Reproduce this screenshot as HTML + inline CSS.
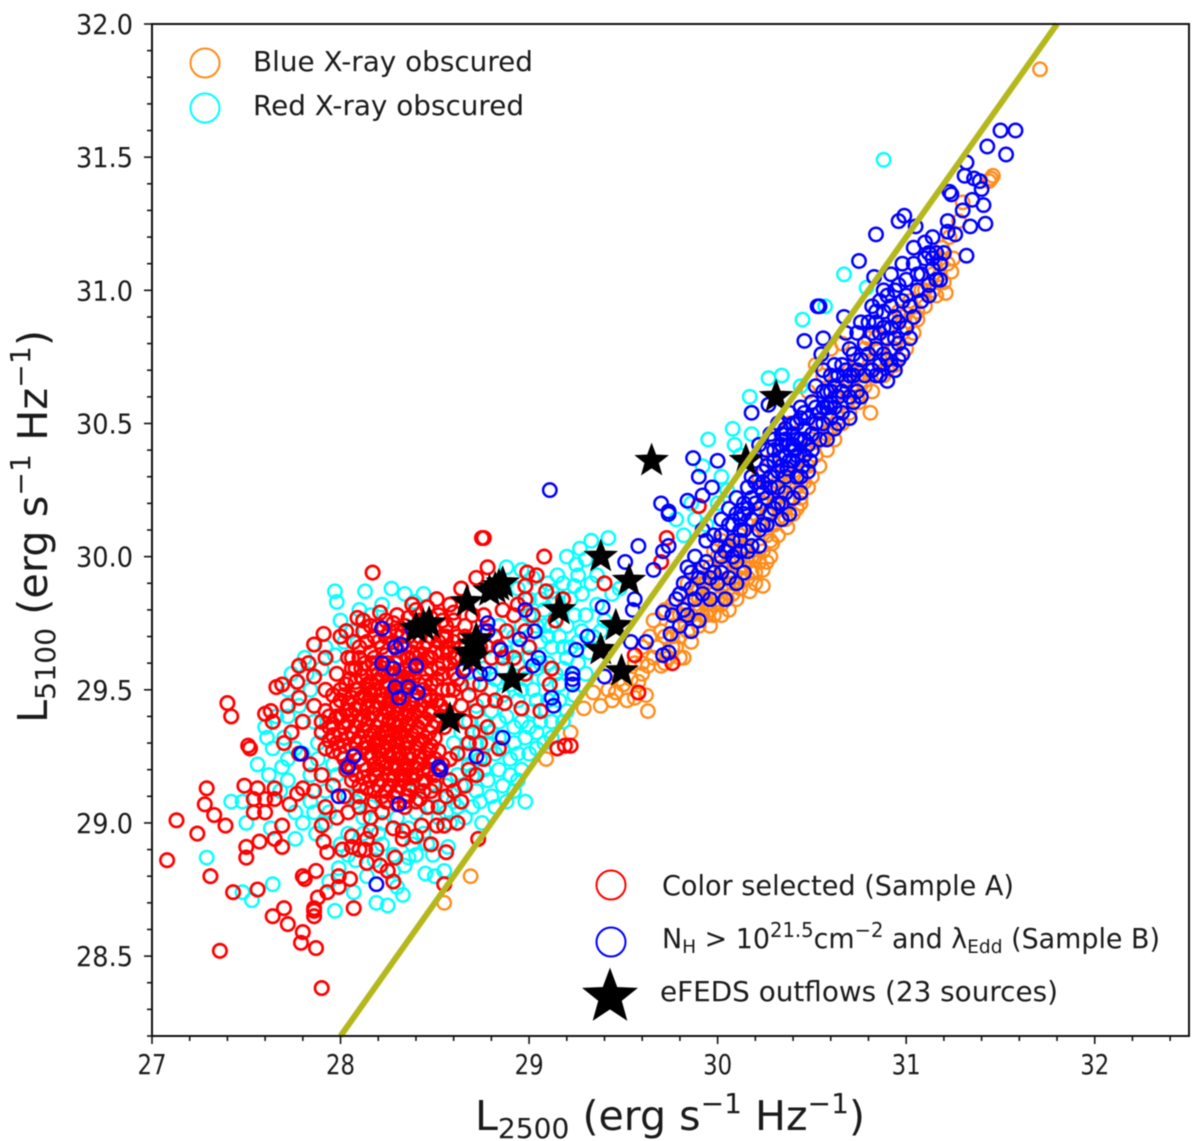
<!DOCTYPE html>
<html lang="en">
<head>
<meta charset="utf-8">
<title>L5100 versus L2500 scatter</title>
<style>
html,body{margin:0;padding:0;background:#fff;}
svg{display:block;filter:blur(0.45px);}
text{font-family:"DejaVu Sans","Liberation Sans",sans-serif;fill:#1a1a1a;}
</style>
</head>
<body>
<svg id="chart" xmlns="http://www.w3.org/2000/svg" width="1200" height="1141" viewBox="0 0 1200 1141">
  <rect x="0" y="0" width="1200" height="1141" fill="#fff"/>
  <g id="orange-layer"></g>
  <g id="cyan-layer"></g>
  <g id="red-layer"></g>
  <g id="blue-layer"></g>
  <g id="star-layer"></g>
  <line id="relation-line" stroke="#b5b81c" stroke-width="6"/>
  <g id="tick-layer"></g>
  <rect x="152" y="24" width="1037" height="1012" fill="none" stroke="#111" stroke-width="2"/>

  <g>
    <circle cx="205" cy="63" r="14.5" fill="none" stroke="#ff8c1a" stroke-width="2"/>
    <text x="253" y="71" font-size="27.5" textLength="280" lengthAdjust="spacingAndGlyphs">Blue X-ray obscured</text>
    <circle cx="205" cy="108" r="14.5" fill="none" stroke="#00ffff" stroke-width="2"/>
    <text x="253" y="115" font-size="27.5" textLength="271" lengthAdjust="spacingAndGlyphs">Red X-ray obscured</text>
  </g>
  <g>
    <circle cx="611" cy="885" r="14.5" fill="none" stroke="#ff0000" stroke-width="2"/>
    <text x="662" y="895" font-size="27.5" textLength="352" lengthAdjust="spacingAndGlyphs">Color selected (Sample A)</text>
    <circle cx="611" cy="942" r="14.5" fill="none" stroke="#0000ff" stroke-width="2"/>
    <text x="662" y="948" font-size="27.5" textLength="498" lengthAdjust="spacingAndGlyphs">N<tspan font-size="19" dy="5">H</tspan><tspan dy="-5"> &gt; 10</tspan><tspan font-size="20" dy="-11">21.5</tspan><tspan dy="11">cm</tspan><tspan font-size="20" dy="-11">−2</tspan><tspan dy="11"> and λ</tspan><tspan font-size="19" dy="5">Edd</tspan><tspan dy="-5"> (Sample B)</tspan></text>
    <polygon id="legend-star" fill="#000" stroke="#000" stroke-width="1"/>
    <text x="660" y="1001" font-size="27.5" textLength="398" lengthAdjust="spacingAndGlyphs">eFEDS outflows (23 sources)</text>
  </g>

  <text x="475" y="1130" font-size="41" textLength="390" lengthAdjust="spacingAndGlyphs">L<tspan font-size="28" dy="8">2500</tspan><tspan dy="-8"> (erg s</tspan><tspan font-size="28" dy="-17">−1</tspan><tspan dy="17"> Hz</tspan><tspan font-size="28" dy="-17">−1</tspan><tspan dy="17">)</tspan></text>
  <text transform="translate(47,723) rotate(-90)" font-size="41" textLength="393" lengthAdjust="spacingAndGlyphs">L<tspan font-size="28" dy="8">5100</tspan><tspan dy="-8"> (erg s</tspan><tspan font-size="28" dy="-17">−1</tspan><tspan dy="17"> Hz</tspan><tspan font-size="28" dy="-17">−1</tspan><tspan dy="17">)</tspan></text>
</svg>

<script>
const xTickLabels = ["27","28","29","30","31","32"];
const yTickLabels = ["28.5","29.0","29.5","30.0","30.5","31.0","31.5","32.0"];
const xDomain = [27, 32.5];
const yDomain = [28.2, 32];
const relationLine = [[28, 28.2], [31.8, 32]];

const starPoints = [[29.65,30.36],[30.15,30.36],[30.31,30.60],[29.38,30.00],[29.53,29.91],[29.16,29.80],[28.84,29.89],[28.79,29.87],[28.67,29.83],[28.40,29.73],[28.47,29.75],[28.72,29.69],[28.70,29.62],[28.91,29.54],[28.58,29.39],[29.46,29.74],[29.38,29.65],[29.49,29.57],[28.44,29.74],[28.82,29.88],[28.68,29.64],[28.71,29.67],[28.86,29.90]];

const orangePoints = [[28.55,28.70],[28.69,28.80],[29.09,29.24],[31.71,31.83],[31.46,31.43],[31.44,31.41],[31.45,31.42],[31.21,30.99],[31.20,31.03],[30.81,30.54],[30.75,30.58],[31.06,30.89],[31.23,31.20],[31.19,31.16],[31.25,31.12],[31.28,31.26],[31.30,31.33],[31.24,31.07],
[29.63,29.42],[29.38,29.44],[29.29,29.43],[29.22,29.34],[29.62,29.48],[29.56,29.47],[29.46,29.49],[29.34,29.49],[29.63,29.59],[29.82,29.62],[29.86,29.68],[30.17,29.87],[30.24,29.89],[30.24,29.95],[30.05,29.84],[29.98,29.82],[30.29,30.05],[30.37,30.11],[30.42,30.18],[29.42,29.50],[29.50,29.52],[29.52,29.46],[29.58,29.53],[29.60,29.56],[29.66,29.62],[29.70,29.59],[29.74,29.62],[29.78,29.66],[29.80,29.70],[29.84,29.72],[29.90,29.74],[29.94,29.78],[29.96,29.80],[30.02,29.82],[30.08,29.86],[30.12,29.92],[30.18,29.94],[30.22,29.98],[30.28,30.00],[30.32,30.08],[30.36,30.14],[30.44,30.22],[30.48,30.26],
[29.56,29.60],[29.60,29.66],[29.64,29.70],[29.66,29.76],[29.70,29.72],[29.72,29.80],[29.76,29.74],[29.76,29.82],[29.80,29.78],[29.80,29.86],[29.84,29.82],[29.84,29.90],[29.88,29.80],[29.88,29.88],[29.90,29.94],[29.92,29.84],[29.94,29.90],[29.96,29.96],[29.98,29.86],[30.00,29.92],[30.00,30.00],[30.02,29.96],[30.04,29.90],[30.04,30.04],[30.06,29.98],[30.08,29.94],[30.08,30.06],[30.10,30.00],[30.12,30.08],[30.14,29.96],[30.14,30.04],[30.16,30.12],[30.18,30.00],[30.18,30.08],[30.20,30.16],[30.22,30.04],[30.22,30.12],[30.24,30.20],[30.26,30.08],[30.26,30.16],[30.28,30.24],[30.30,30.12],[30.30,30.20],[30.32,30.28],[30.34,30.18],[30.34,30.24],[30.36,30.32],[30.38,30.22],[30.40,30.30],[30.42,30.36],[30.44,30.28],[30.46,30.40],[30.48,30.34],[30.50,30.44],[30.52,30.38],[30.54,30.50],[30.56,30.44],[30.58,30.54],[30.60,30.48],[30.62,30.60],[30.64,30.52],[30.66,30.64],[30.68,30.58],[30.70,30.70],[30.72,30.62],[30.74,30.74],[30.76,30.66],[30.78,30.78],[30.80,30.70],[30.82,30.62],[30.84,30.82],[30.86,30.74],[30.88,30.68],[30.90,30.86],[30.92,30.78],[30.94,30.72],[30.96,30.92],[30.98,30.84],[31.00,30.78],[31.02,30.96],[31.04,30.84],[31.08,31.00],[31.10,30.94],[31.14,31.06],[31.16,30.98],[31.18,31.12],[31.22,31.10],[30.52,30.72],[30.48,30.62],[30.44,30.56],[30.38,30.50],[30.33,30.42],[30.28,30.36],[30.22,30.30],[30.60,30.78],[30.56,30.68],[30.66,30.80],
[29.88,29.76],[29.92,29.78],[29.96,29.74],[29.90,29.84],[29.94,29.82],[29.98,29.78],[30.02,29.78],[30.06,29.88],[30.10,29.84],[30.12,29.88],[30.16,29.92],[30.20,29.90],[30.06,29.80],[29.86,29.78],[29.92,29.90],[29.96,29.88],[30.00,29.84],[30.04,29.96],[30.08,29.90],[30.12,29.96],[30.16,29.98],[30.20,30.00],[30.24,30.02],[30.28,30.06],[30.32,30.14],[30.36,30.18],[30.40,30.16],[30.44,30.20],[30.26,29.98],[30.20,29.94],[30.02,30.06],[30.06,30.02],[30.10,30.06],[30.14,30.10],[30.18,30.14],[30.22,30.18],[30.26,30.22],[30.30,30.26],[29.94,29.98],[29.98,30.02],[29.90,29.88],[29.86,29.84],[29.82,29.78],[30.50,30.30],[30.54,30.34],[30.58,30.40],[30.62,30.44],[30.66,30.50],[30.70,30.54],[30.74,30.60],[30.78,30.64],[30.82,30.70],[30.86,30.78],[30.90,30.70],[30.94,30.78],[30.98,30.90],[31.02,30.88],[31.06,30.92],[31.10,31.00],[31.14,31.00],[31.18,31.06],[30.46,30.28],[30.42,30.26],[30.38,30.28],[30.70,30.66],[30.74,30.68],[30.58,30.46],[30.80,30.82],[30.84,30.74],[29.68,29.66],[29.72,29.70],[29.76,29.70],[29.60,29.60],[29.54,29.54],[29.48,29.54],[29.44,29.46],[29.72,29.60],[29.76,29.66],[29.80,29.62]];

const cyanPoints = [[30.88,31.49],[30.67,31.06],[30.57,30.94],[30.45,30.89],[30.34,30.68],[30.27,30.67],[30.17,30.60],[30.08,30.48],[29.95,30.44],[30.44,30.64],[30.79,31.01],[30.18,30.46],[30.09,30.42],[29.92,30.34],[30.02,30.30],[29.86,30.20],[29.94,30.12],[29.82,30.08],[29.78,30.14],[29.88,30.14],[30.00,30.20],[30.05,30.25],[30.12,30.38],
[29.33,30.06],[29.27,30.03],[29.42,30.07],[29.25,29.97],[29.30,29.99],[29.20,30.00],[29.36,29.93],[29.33,29.90],[29.28,29.86],[29.24,29.89],[29.44,29.86],[29.48,29.88],[29.10,29.90],[29.12,29.87],[29.15,29.93],[29.02,29.92],[28.96,29.95],[28.88,29.96],[29.06,29.84],[29.00,29.78],[29.08,29.74],[29.16,29.70],[29.20,29.74],[29.24,29.78],[29.30,29.78],[29.34,29.70],[29.26,29.68],[29.20,29.62],[29.12,29.66],[29.06,29.68],[29.00,29.62],[28.94,29.60],[28.86,29.58],[28.92,29.70],[28.84,29.74],[28.78,29.66],[28.76,29.58],[28.70,29.52],[28.80,29.50],[28.86,29.48],[28.94,29.46],[29.02,29.50],[29.08,29.54],[29.16,29.52],[29.10,29.46],[29.02,29.42],[28.96,29.38],[28.88,29.40],[28.80,29.42],[28.72,29.44],[28.64,29.34],[28.74,29.34],[28.84,29.32],[28.92,29.30],[29.00,29.26],[29.04,29.34],[29.12,29.38],[29.08,29.30],[28.96,29.20],[28.90,29.24],[28.82,29.26],[28.74,29.24],[28.66,29.26],[28.62,29.18],[28.70,29.18],[28.78,29.16],[28.86,29.14],[28.92,29.12],[28.98,29.08],[28.82,29.06],[28.74,29.08],[28.66,29.02],[28.75,29.00],[28.60,29.08],[28.56,29.14],[28.52,29.20],
[27.97,29.87],[27.98,29.83],[28.13,29.87],[28.27,29.88],[28.39,29.83],[27.29,28.87],[27.48,29.08],[27.69,29.21],[27.81,29.62],[27.97,29.63],[27.61,29.32],[27.64,29.28],[27.72,29.24],[27.60,29.36],[27.66,29.40],[27.84,29.50],[27.74,29.56],[27.90,29.58],[28.02,29.68],[28.00,29.76],[28.16,29.78],
[27.64,28.77],[27.48,28.74],[27.53,28.71],[27.76,28.94],[27.63,28.98],[27.97,28.67],[28.19,28.70],[28.25,28.69],[28.33,28.73],[28.45,28.81],[28.50,28.80],[28.55,28.82],[28.57,28.91],[28.49,28.88],[28.36,28.87],[27.99,28.83],[27.94,28.78],[28.07,28.74],[27.87,28.96],[28.22,28.92],[28.30,28.76],[28.28,28.82],[28.14,28.80],[28.18,28.86],[28.38,28.92],[28.44,28.96],[28.52,29.02],[28.48,29.06],[28.40,29.04],[28.30,29.02],[28.22,29.00],[28.12,29.02],[28.04,28.96],[27.94,29.04],[27.84,29.08],[27.76,29.04],[27.72,29.16],[27.84,29.18],[27.92,29.12],[28.04,29.10],[28.16,29.06],[28.28,29.10],[28.40,29.12],[28.50,29.10],[27.42,29.08],[27.50,29.00],[27.80,29.26],[27.88,29.30],[27.96,29.22],[28.58,29.00],[28.36,28.98],
[28.98,29.54],[29.04,29.58],[29.10,29.60],[29.14,29.56],[29.18,29.58],[29.22,29.66],[29.18,29.66],[29.10,29.70],[29.04,29.74],[28.96,29.74],[28.94,29.66],[28.88,29.64],[28.82,29.54],[28.90,29.52],[28.96,29.50],[29.04,29.46],[29.06,29.38],[29.00,29.36],[28.92,29.36],[28.84,29.38],[28.76,29.38],[28.68,29.38],[28.78,29.30],[28.86,29.28],[28.94,29.26],[28.98,29.32],[29.04,29.28],[28.90,29.18],[28.84,29.20],[28.76,29.20],[28.68,29.22],[28.64,29.14],[28.72,29.12],[28.80,29.10],[28.88,29.08],[28.94,29.16],[28.70,29.06],[28.62,29.06],[28.80,29.34],[28.72,29.30],[29.06,29.60],[29.12,29.74],[29.16,29.80],[29.22,29.84],[29.14,29.84],[29.08,29.80],[29.00,29.84],[28.94,29.88],[29.18,29.90],[29.26,29.93],[29.36,29.82],[29.40,29.76],[29.28,29.72],[29.32,29.64],[29.38,29.72],[29.26,29.60],[29.16,29.46],[29.20,29.42],[29.24,29.48],[29.30,29.56],[29.12,29.32],[29.18,29.38],
[28.60,29.30],[28.56,29.04],[28.46,28.92],[28.40,28.88],[28.34,28.84],[28.28,28.88],[28.20,28.96],[28.12,28.96],[28.08,28.86],[28.04,28.88],[28.00,28.92],[27.92,29.00],[28.08,29.08],[27.80,29.00],[27.86,29.04],[27.98,29.18],[27.88,29.24],[27.76,29.28],[27.70,29.32],[27.68,29.12],[27.62,29.18],[27.56,29.22],[27.72,29.40],[27.78,29.44],[27.86,29.38],[27.72,29.50],[27.82,29.56],[27.92,29.66],[28.06,29.72],[28.10,29.80],[28.22,29.82],[28.34,29.86],[28.44,29.86]];

const redPoints = [[27.13,29.01],[27.24,28.96],[27.28,29.07],[27.33,29.03],[27.39,28.99],[27.08,28.86],[27.31,28.80],[27.43,28.74],[27.56,28.75],[27.50,28.91],[27.50,28.87],[27.57,28.93],[27.69,28.99],[27.65,28.94],[27.69,28.91],[27.36,28.52],[27.64,28.65],[27.70,28.68],[27.72,28.62],[27.80,28.59],[27.79,28.55],[27.87,28.53],[27.90,28.38],[27.86,28.68],[27.86,28.67],[27.86,28.65],[27.88,28.72],[27.93,28.74],[27.87,28.82],[27.80,28.80],[27.81,28.79],[27.99,28.80],[27.99,28.76],[28.05,28.79],[28.07,28.68],[28.28,28.78],[27.91,28.93],[27.93,28.89],[28.01,28.90],[28.06,28.95],[28.06,28.91],[28.14,28.94],[28.16,28.97],[28.10,28.90],[28.13,28.90],[28.19,28.90],[28.14,28.85],[28.21,28.84],[28.25,28.82],[28.29,28.87],[28.33,28.94],[28.33,28.97],[28.40,28.95],[28.43,28.99],[28.51,28.99],[28.55,28.99],[28.48,28.92],[28.56,28.89],[28.55,28.77],[28.73,28.94],[27.90,28.99],
[28.75,30.07],[28.76,30.07],[28.78,29.96],[28.17,29.94],[27.40,29.45],[27.42,29.40],[27.51,29.29],[27.52,29.28],[27.63,29.42],[27.60,29.41],[27.64,29.38],[27.66,29.51],[27.69,29.52],[27.77,29.53],[27.72,29.44],[27.78,29.47],[27.86,29.55],[27.78,29.59],[27.83,29.60],[27.86,29.67],[27.91,29.71],[28.00,29.70],[28.03,29.72],[28.07,29.68],[28.09,29.77],[28.21,29.79],[28.38,29.82],[28.51,29.84],[27.29,29.13],[27.49,29.14],[27.56,29.13],[27.54,29.09],[27.60,29.09],[27.54,29.04],[27.60,29.04],[27.65,29.13],[27.65,29.09],[27.73,29.07],[27.77,29.11],[27.80,29.13],
[29.08,30.00],[28.99,29.94],[29.04,29.93],[28.98,29.89],[29.09,29.87],[29.18,29.84],[29.40,29.90],[29.73,30.07],[29.90,30.19],[29.70,29.98],[29.76,29.60],[29.56,29.63],[29.58,29.49],[29.06,29.42],[28.96,29.43],[28.87,29.45],[29.11,29.52],[29.12,29.58],[29.22,29.29],[29.15,29.28],[29.19,29.29],[28.98,29.84],[28.92,29.78],[28.98,29.72],[28.88,29.72],[28.84,29.66],[28.92,29.62],[28.98,29.56],[28.76,29.78],[28.70,29.78],[28.64,29.88],[28.72,29.92],[28.58,29.82],[28.60,29.76],[28.80,29.62],[28.74,29.52],[28.82,29.46],[28.78,29.36],[28.84,29.28],[28.76,29.24],[28.68,29.30],[28.72,29.18],[28.64,29.08],[28.68,29.20],[28.60,29.12],[28.62,29.00],
[27.70,29.30],[27.74,29.34],[27.80,29.38],[27.86,29.44],[27.92,29.50],[27.78,29.26],[27.84,29.22],[27.90,29.18],[27.96,29.14],[28.02,29.10],[27.86,29.12],[27.92,29.06],[27.98,29.02],[28.04,29.04],[28.10,29.06],[28.16,29.02],[28.22,29.04],[28.28,28.98],[28.34,29.06],[28.40,29.08],[28.46,29.06],[28.52,29.06],[27.92,29.62],[27.98,29.56],[28.04,29.62],[28.00,29.50],[27.94,29.40],[27.90,29.34],
[28.40,29.80],[28.46,29.81],[28.30,29.78],[28.24,29.76],[28.16,29.74],[28.12,29.72],[28.18,29.70],[28.26,29.72],[28.34,29.74],[28.42,29.70],[28.50,29.72],[28.56,29.70],[28.62,29.70],[28.66,29.74],[28.06,29.62],[28.10,29.66],[28.16,29.64],[28.22,29.66],[28.28,29.68],[28.34,29.66],[28.38,29.64],[28.44,29.66],[28.50,29.64],[28.56,29.66],[28.62,29.62],[28.66,29.58],[28.08,29.58],[28.13,29.60],[28.19,29.58],[28.25,29.60],[28.31,29.62],[28.37,29.59],[28.43,29.60],[28.48,29.58],[28.54,29.60],[28.60,29.56],[28.64,29.52],[28.05,29.54],[28.11,29.55],[28.16,29.53],[28.22,29.55],[28.28,29.56],[28.33,29.54],[28.39,29.55],[28.45,29.53],[28.51,29.54],[28.57,29.50],
[28.02,29.48],[28.08,29.50],[28.13,29.48],[28.18,29.50],[28.24,29.51],[28.30,29.49],[28.35,29.50],[28.41,29.49],[28.47,29.48],[28.53,29.44],[28.58,29.46],[27.98,29.44],[28.04,29.45],[28.10,29.44],[28.15,29.46],[28.21,29.45],[28.26,29.46],[28.32,29.44],[28.37,29.45],[28.43,29.44],[28.49,29.42],[27.94,29.36],[28.00,29.40],[28.06,29.41],[28.12,29.40],[28.17,29.41],[28.23,29.40],[28.28,29.42],[28.34,29.40],[28.39,29.41],[28.45,29.39],[28.51,29.38],[27.96,29.33],[28.02,29.36],[28.08,29.36],[28.14,29.37],[28.19,29.36],[28.25,29.37],[28.30,29.36],[28.36,29.37],[28.41,29.36],[28.47,29.34],[27.92,29.28],[27.98,29.30],[28.04,29.32],[28.10,29.32],[28.16,29.33],[28.21,29.32],[28.27,29.33],[28.32,29.32],[28.38,29.33],[28.43,29.31],[28.48,29.29],
[28.00,29.26],[28.06,29.28],[28.12,29.28],[28.18,29.29],[28.23,29.28],[28.29,29.29],[28.34,29.28],[28.40,29.28],[28.45,29.26],[28.50,29.24],[28.04,29.22],[28.10,29.24],[28.16,29.25],[28.21,29.24],[28.26,29.25],[28.32,29.24],[28.37,29.24],[28.42,29.22],[28.47,29.20],[28.54,29.22],[28.58,29.16],[28.08,29.18],[28.14,29.20],[28.19,29.20],[28.24,29.21],[28.30,29.20],[28.35,29.20],[28.40,29.18],[28.45,29.16],[28.50,29.14],[28.56,29.10],[28.10,29.14],[28.16,29.16],[28.22,29.16],[28.28,29.16],[28.33,29.16],[28.38,29.14],[28.44,29.12],[28.10,29.10],[28.18,29.12],[28.24,29.12],[28.30,29.12],[28.36,29.10],[28.42,29.09],[28.24,29.08],[28.18,29.08],[28.30,29.07],[28.06,29.16],[28.03,29.20],
[28.20,29.56],[28.26,29.52],[28.23,29.46],[28.17,29.44],[28.28,29.38],[28.22,29.34],[28.26,29.30],[28.20,29.30],[28.30,29.44],[28.34,29.48],[28.15,29.50],[28.36,29.42],[28.32,29.34],[28.36,29.30],[28.27,29.22],[28.22,29.22],[28.34,29.18],[28.28,29.26],[28.31,29.52],[28.27,29.58],[28.36,29.56],[28.40,29.62],[28.46,29.62],[28.52,29.68],[28.58,29.60],[28.44,29.50],[28.48,29.46],[28.40,29.46],[28.54,29.56],[28.44,29.76],[28.52,29.78],[28.56,29.74],[28.60,29.68],[28.48,29.70],[28.36,29.70],[28.30,29.72],
[28.12,29.76],[28.20,29.74],[28.28,29.75],[28.36,29.77],[28.42,29.76],[28.48,29.77],[28.54,29.76],[28.60,29.79],[28.14,29.68],[28.20,29.68],[28.24,29.70],[28.32,29.70],[28.40,29.68],[28.46,29.68],[28.54,29.70],[28.58,29.64],[28.64,29.66],[28.10,29.62],[28.18,29.62],[28.24,29.63],[28.30,29.65],[28.36,29.62],[28.42,29.63],[28.48,29.62],[28.54,29.64],[28.60,29.62],[28.06,29.58],[28.11,29.58],[28.17,29.60],[28.23,29.58],[28.29,29.60],[28.34,29.58],[28.40,29.58],[28.46,29.56],[28.52,29.58],[28.62,29.54],[28.03,29.52],[28.08,29.53],[28.14,29.52],[28.19,29.53],[28.25,29.53],[28.31,29.55],[28.36,29.53],[28.42,29.52],[28.48,29.52],[28.54,29.50],[28.60,29.50],[27.96,29.48],[28.00,29.46],[28.06,29.47],[28.11,29.47],[28.16,29.48],[28.22,29.48],[28.27,29.49],[28.33,29.47],[28.39,29.48],[28.45,29.46],[28.51,29.46],[28.56,29.42],[27.92,29.42],[27.98,29.40],[28.03,29.42],[28.08,29.43],[28.14,29.43],[28.19,29.43],[28.25,29.43],[28.30,29.41],[28.35,29.42],[28.41,29.42],[28.47,29.41],[28.53,29.40],[27.90,29.38],[27.96,29.37],[28.04,29.38],[28.10,29.38],[28.15,29.39],[28.21,29.38],[28.26,29.39],[28.32,29.38],[28.38,29.39],[28.43,29.38],[28.49,29.36],[28.55,29.36],[27.94,29.31],[28.00,29.33],[28.06,29.34],[28.12,29.35],[28.18,29.34],[28.24,29.35],[28.29,29.34],[28.34,29.35],[28.40,29.34],[28.45,29.32],[28.50,29.32],[27.96,29.27],[28.02,29.29],[28.08,29.30],[28.14,29.30],[28.19,29.31],[28.25,29.30],[28.30,29.31],[28.36,29.31],[28.41,29.30],[28.47,29.27],[28.52,29.27],[28.02,29.24],[28.08,29.26],[28.14,29.26],[28.20,29.27],[28.25,29.27],[28.31,29.26],[28.36,29.26],[28.42,29.25],[28.47,29.23],[28.52,29.20],[28.06,29.20],[28.12,29.22],[28.18,29.22],[28.23,29.23],[28.29,29.22],[28.34,29.22],[28.39,29.21],[28.44,29.20],[28.50,29.18],[28.12,29.17],[28.18,29.18],[28.26,29.18],[28.32,29.18],[28.37,29.17],[28.43,29.15],[28.48,29.12],[28.20,29.14],[28.26,29.14],[28.31,29.14],[28.36,29.13],[28.22,29.10],[28.28,29.10],[28.34,29.08],[28.14,29.13],
[28.66,29.70],[28.70,29.60],[28.74,29.66],[28.76,29.72],[28.82,29.70],[28.86,29.62],[28.68,29.48],[28.72,29.42],[28.76,29.46],[28.64,29.44],[28.66,29.38],[28.70,29.34],[28.62,29.26],[28.58,29.24],[28.66,29.14],[28.74,29.30],[29.00,29.66],[29.02,29.78],[28.94,29.82],[28.86,29.80],[29.14,29.76]];

const bluePoints = [[31.50,31.60],[31.58,31.60],[31.43,31.54],[31.53,31.51],[31.32,31.48],[31.31,31.43],[31.36,31.42],[31.39,31.41],[31.40,31.38],[31.23,31.37],[31.24,31.36],[31.35,31.34],[31.41,31.32],[31.30,31.30],[31.22,31.26],[31.34,31.24],[31.42,31.25],[31.22,31.22],[31.26,31.21],[31.32,31.13],[30.99,31.28],[30.96,31.26],[31.05,31.24],[30.84,31.21],[30.75,31.11],[30.83,31.05],[30.53,30.94],[30.54,30.94],[30.67,30.90],[30.46,30.81],[30.56,30.82],[30.55,30.76],[30.18,30.54],[30.27,30.57],
[29.11,30.25],[29.87,30.37],[30.00,30.36],[29.90,30.30],[29.97,30.26],[29.70,30.20],[29.74,30.17],[29.84,30.21],[29.92,30.23],[29.74,30.16],[29.58,30.04],[29.51,29.98],[29.66,29.95],[29.74,30.04],[29.71,30.02],[29.39,29.81],[28.98,29.80],[29.03,29.72],[28.78,29.75],[28.85,29.65],[28.95,29.69],[29.05,29.62],[29.02,29.59],[29.25,29.65],[29.31,29.70],[29.23,29.56],[29.23,29.54],[29.23,29.52],[29.12,29.47],[29.13,29.44],[28.86,29.32],[28.65,29.57],[28.74,29.56],[28.79,29.56],[29.40,29.55],[29.55,29.80],[29.56,29.84],[29.71,29.79],[29.75,29.71],[29.71,29.63],[29.74,29.64],[29.62,29.68],[29.54,29.68],
[28.22,29.73],[28.32,29.67],[28.29,29.66],[28.38,29.73],[28.22,29.60],[28.28,29.58],[28.40,29.59],[28.29,29.51],[28.36,29.51],[28.41,29.49],[28.31,29.47],[28.78,29.72],[27.79,29.26],[28.04,29.21],[28.07,29.25],[28.53,29.20],[28.52,29.21],[28.31,29.07],[27.99,29.10],[28.19,28.77],[28.72,29.25],
[29.78,29.84],[29.82,29.90],[29.86,29.94],[29.90,29.92],[29.94,29.98],[29.98,29.94],[29.82,29.80],[29.76,29.78],[29.80,29.74],[29.84,29.78],[29.86,29.72],[29.88,29.84],[29.92,29.86],[29.96,29.84],[30.00,29.90],[30.02,29.94],[29.90,29.76],[30.06,29.92],[30.04,30.02],[30.00,30.04],[29.94,30.06],[29.88,30.00],[29.84,29.96],[29.92,30.10],[30.02,30.14],[29.98,30.08],[30.06,30.12],[30.08,30.06],[30.12,30.14],[30.06,30.18],[30.10,30.22],[30.14,30.20],[30.16,30.26],[30.12,30.06],[30.18,30.14],[30.20,30.20],[30.14,30.10],[30.22,30.26],[30.24,30.32],[30.18,30.30],[30.20,30.36],[30.26,30.22],[30.28,30.30],[30.30,30.36],[30.26,30.40],[30.22,30.42],[30.30,30.44],[30.34,30.42],[30.32,30.26],[30.36,30.30],[30.38,30.36],[30.34,30.34],[30.40,30.42],[30.36,30.48],[30.42,30.50],[30.32,30.50],[30.28,30.46],[30.44,30.44],[30.40,30.36],[30.46,30.38],[30.42,30.30],[30.36,30.24],[30.30,30.18],[30.24,30.12],[30.22,30.04],[30.16,30.02],[30.10,29.98],[30.28,30.16],[30.34,30.20],[30.38,30.16],[30.44,30.24],[30.48,30.32],[30.50,30.40],[30.46,30.48],[30.38,30.54],[30.44,30.56],[30.48,30.52],[30.52,30.50],[30.54,30.44],[30.50,30.58],[30.56,30.56],[30.52,30.64],[30.58,30.62],[30.60,30.68],[30.56,30.50],[30.62,30.56],[30.56,30.70],[30.62,30.72],[30.60,30.62],[30.66,30.62],[30.64,30.68],[30.66,30.54],[30.70,30.60],[30.66,30.72],[30.70,30.78],[30.72,30.68],[30.76,30.74],[30.74,30.84],[30.78,30.80],[30.80,30.88],[30.84,30.78],[30.82,30.94],[30.86,30.84],[30.88,30.92],[30.88,30.76],[30.92,30.86],[30.90,30.98],[30.94,30.90],[30.96,30.80],[30.98,30.96],[30.94,31.00],[31.00,31.04],[31.02,30.94],[31.04,31.10],[31.06,31.00],[31.08,31.06],[31.10,31.12],[31.12,31.02],[31.14,31.08],[31.16,31.14],[31.18,31.04],[31.04,31.16],[30.98,31.10],[30.92,31.06],[30.88,31.00],[30.82,30.84],[30.76,30.88],[30.72,30.76],[30.68,30.84],[30.86,30.68],[30.90,30.74],[30.94,30.70],[30.98,30.76],[31.10,31.18],[31.14,31.20],
[30.02,30.08],[30.08,30.12],[30.10,30.16],[30.14,30.16],[30.18,30.22],[30.22,30.18],[30.24,30.24],[30.28,30.26],[30.32,30.32],[30.36,30.38],[30.40,30.46],[30.34,30.46],[30.38,30.42],[30.42,30.38],[30.46,30.44],[30.50,30.46],[30.54,30.54],[30.58,30.56],[30.60,30.58],[30.56,30.62],[30.52,30.56],[30.62,30.64],[30.64,30.60],[30.46,30.54],[30.42,30.44],[30.26,30.34],[30.30,30.40],[30.24,30.28],[30.20,30.28],[30.16,30.18],[30.12,30.10],[30.06,30.04],[30.36,30.44],[30.40,30.50],[30.44,30.52],[30.48,30.42],[30.33,30.37],[30.37,30.33],[30.41,30.40],[30.45,30.34],[30.49,30.36],[30.60,30.52],[30.64,30.50],[30.68,30.66],[30.84,30.88],[30.86,30.96],[30.90,30.82],[30.92,30.94],[30.96,31.02],[31.00,30.98],[30.96,30.88],[31.00,30.86],[31.06,31.06],[31.12,31.14],
[30.68,30.70],[30.62,30.48],[30.58,30.44],[30.70,30.52],[30.74,30.62],[30.78,30.68],[30.72,30.58],[30.82,30.70],[30.76,30.60],[30.84,30.68],[30.90,30.66],[30.86,30.72],[30.92,30.72],[30.96,30.74],[30.94,30.82],[31.02,30.82],[31.04,30.90],[31.08,30.96],[31.12,30.98],[31.14,31.12],[31.18,31.10],[31.20,31.14],[31.16,31.04],[30.88,30.86],[30.84,30.92],[30.80,30.76],[30.74,30.70],[30.70,30.68],[30.10,29.90],[30.04,29.84],[30.14,29.94],[30.18,30.04],[30.22,30.10],[30.26,30.12],[30.32,30.20],[30.40,30.22],[30.44,30.30],[30.34,30.14],[30.08,30.00],[30.12,30.02],[30.02,30.00],[29.96,29.92],[29.92,29.96],[29.86,29.88],[29.80,29.86]];

const plotLeft = 152, plotRight = 1189, plotTop = 24, plotBottom = 1036;
const svgNS = "http://www.w3.org/2000/svg";

function xScale(v) { return plotLeft + (v - xDomain[0]) / (xDomain[1] - xDomain[0]) * (plotRight - plotLeft); }
function yScale(v) { return plotBottom - (v - yDomain[0]) / (yDomain[1] - yDomain[0]) * (plotBottom - plotTop); }

function starShape(cx, cy, r) {
  const pts = [];
  for (let i = 0; i < 10; i++) {
    const rad = i % 2 === 0 ? r : r * 0.42;
    const a = -Math.PI / 2 + i * Math.PI / 5;
    pts.push((cx + rad * Math.cos(a)).toFixed(1) + "," + (cy + rad * Math.sin(a)).toFixed(1));
  }
  return pts.join(" ");
}

function drawCircles(layerId, points, color, name, width) {
  const layer = document.getElementById(layerId);
  points.forEach(function (p) {
    const c = document.createElementNS(svgNS, "circle");
    c.setAttribute("cx", xScale(p[0]).toFixed(1));
    c.setAttribute("cy", yScale(p[1]).toFixed(1));
    c.setAttribute("r", "6.7");
    c.setAttribute("fill", "none");
    c.setAttribute("stroke", color);
    c.setAttribute("stroke-width", width);
    
    
    layer.appendChild(c);
  });
}

drawCircles("orange-layer", orangePoints, "#ff8c1a", "blue-obscured-point", "2.4");
drawCircles("cyan-layer", cyanPoints, "#00ffff", "red-obscured-point", "2.4");
drawCircles("red-layer", redPoints, "#ff0000", "color-selected-point", "2.7");
drawCircles("blue-layer", bluePoints, "#0000ff", "sample-b-point", "2.5");

const starLayer = document.getElementById("star-layer");
starPoints.forEach(function (p) {
  const s = document.createElementNS(svgNS, "polygon");
  s.setAttribute("points", starShape(xScale(p[0]), yScale(p[1]), 16));
  s.setAttribute("fill", "#000");
  s.setAttribute("stroke", "#000");
  s.setAttribute("stroke-width", "1.5");
  
  
  starLayer.appendChild(s);
});

document.getElementById("legend-star").setAttribute("points", starShape(610, 997, 28));

const line = document.getElementById("relation-line");
line.setAttribute("x1", xScale(relationLine[0][0]));
line.setAttribute("y1", yScale(relationLine[0][1]));
line.setAttribute("x2", xScale(relationLine[1][0]));
line.setAttribute("y2", yScale(relationLine[1][1]));

const tickLayer = document.getElementById("tick-layer");

function addTick(x1, y1, x2, y2, name) {
  const t = document.createElementNS(svgNS, "line");
  t.setAttribute("x1", x1);
  t.setAttribute("y1", y1);
  t.setAttribute("x2", x2);
  t.setAttribute("y2", y2);
  t.setAttribute("stroke", "#111");
  t.setAttribute("stroke-width", "1.6");
  
  
  tickLayer.appendChild(t);
}

function addLabel(x, y, anchor, size, str, name, width) {
  const t = document.createElementNS(svgNS, "text");
  t.setAttribute("x", x);
  t.setAttribute("y", y);
  t.setAttribute("text-anchor", anchor);
  t.setAttribute("font-size", size);
  t.setAttribute("textLength", width);
  t.setAttribute("lengthAdjust", "spacingAndGlyphs");
  t.textContent = str;
  
  
  tickLayer.appendChild(t);
}

xTickLabels.forEach(function (label) {
  const v = parseFloat(label);
  addTick(xScale(v), plotBottom, xScale(v), plotBottom + 8, "x-major-tick");
  addLabel(xScale(v), 1074, "middle", 27.5, label, "x-tick-label", 29);
});
for (let i = 0; i <= 27; i++) {
  const v = xDomain[0] + i * 0.2;
  if (i % 5 !== 0) {
    addTick(xScale(v), plotBottom, xScale(v), plotBottom + 5, "x-minor-tick");
  }
}
yTickLabels.forEach(function (label) {
  const v = parseFloat(label);
  addTick(plotLeft, yScale(v), plotLeft - 8, yScale(v), "y-major-tick");
  addLabel(133, yScale(v) + 10, "end", 27.5, label, "y-tick-label", 57);
});
for (let i = 0; i <= 38; i++) {
  const v = yDomain[0] + i * 0.1;
  if ((i + 2) % 5 !== 0) {
    addTick(plotLeft, yScale(v), plotLeft - 5, yScale(v), "y-minor-tick");
  }
}
</script>
</body>
</html>
